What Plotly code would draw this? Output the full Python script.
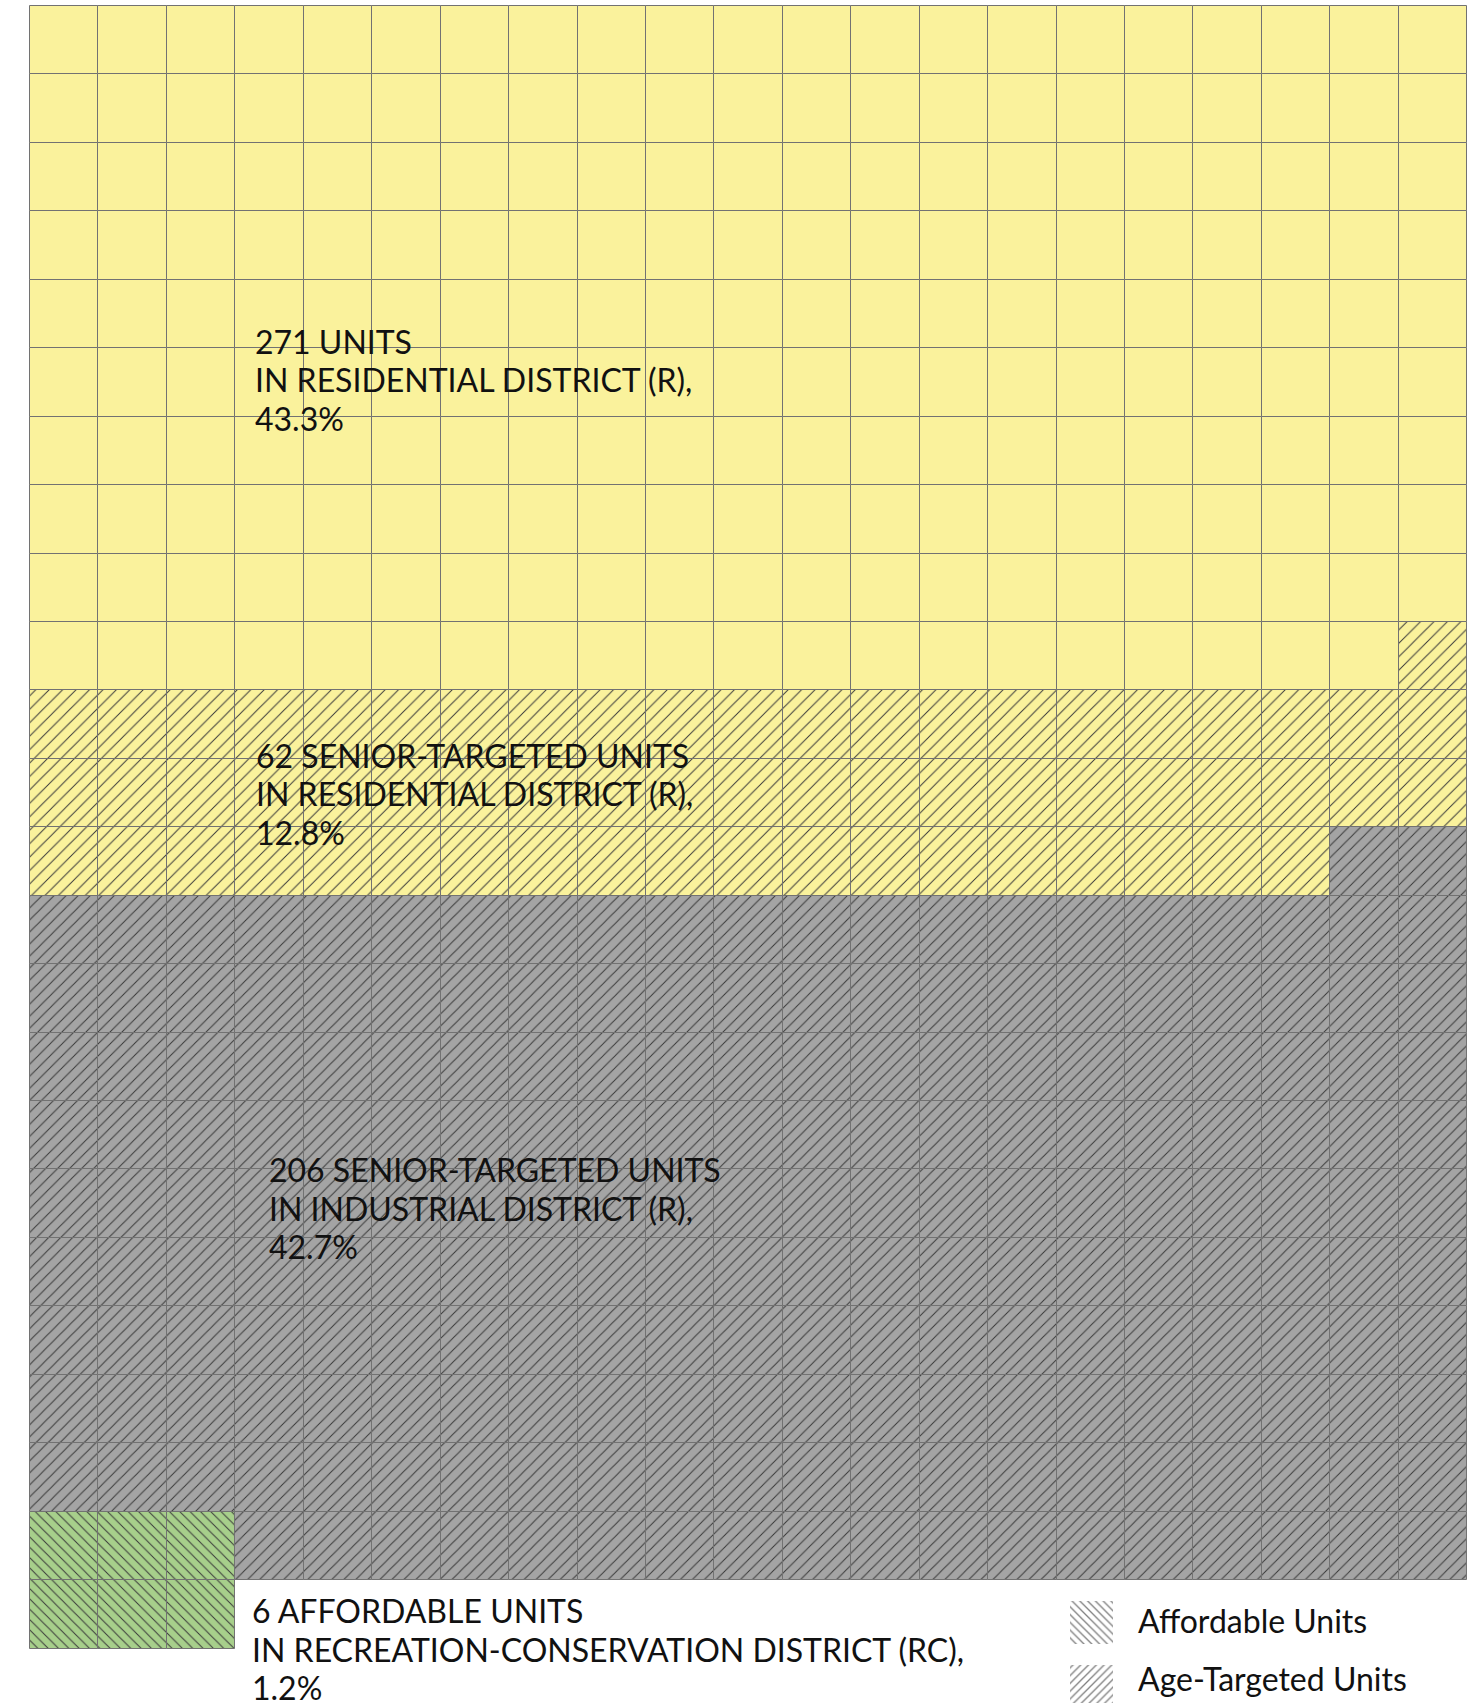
import plotly.graph_objects as go

# ---- data -------------------------------------------------------------
residential_total = 271      # all units in the Residential District (R)
senior_residential = 62      # senior-targeted units in R
senior_industrial = 206      # senior-targeted units in the Industrial District
affordable_rc = 6            # affordable units in Recreation-Conservation

label_lines = [
    ["271 UNITS", "IN RESIDENTIAL DISTRICT (R),", "43.3%"],
    ["62 SENIOR-TARGETED UNITS", "IN RESIDENTIAL DISTRICT (R),", "12.8%"],
    ["206 SENIOR-TARGETED UNITS", "IN INDUSTRIAL DISTRICT (R),", "42.7%"],
    ["6 AFFORDABLE UNITS", "IN RECREATION-CONSERVATION DISTRICT (RC),", "1.2%"],
]
legend_texts = ["Affordable Units", "Age-Targeted Units"]

# ---- styling ------------------------------------------------------------
W, H = 1483, 1703
N_COLS = 21
CELL = 68.44               # pixel size of one waffle cell
GRID_LEFT, GRID_TOP = 30, 6
YELLOW, GRAY, GREEN = "#FAF29C", "#A4A4A4", "#A7CF8B"
EDGE = "#727272"
HATCH = "#3A3A3A"
FONT = "Lato"
FONT_SIZE = 32
LINE_STEP = 38.6           # pixel distance between label lines

# ---- waffle layout --------------------------------------------------------
plain_residential = residential_total - senior_residential
total = residential_total + senior_industrial + affordable_rc
n_rows = total // N_COLS + (1 if total % N_COLS else 0)

cells = [(i // N_COLS, i % N_COLS) for i in range(N_COLS * n_rows)]
plain_cells = cells[:plain_residential]
senior_res_cells = cells[plain_residential:residential_total]

# affordable block: two rows, anchored bottom-left, top row in last grid row
aff_rows = 2
aff_cols = affordable_rc // aff_rows
aff_cells = [(n_rows - 1 + r, c) for r in range(aff_rows) for c in range(aff_cols)]
aff_set = set(aff_cells)
industrial_cells = [rc for rc in cells[residential_total:] if rc not in aff_set]


def cell_trace(cell_list, color, shape, size):
    pattern = dict(shape=shape, fgcolor=HATCH, bgcolor=color, size=size,
                   solidity=1.0 / size, fillmode="replace")
    return go.Bar(
        x=[c + 0.5 for r, c in cell_list],
        y=[1] * len(cell_list),
        base=[r for r, c in cell_list],
        width=[1] * len(cell_list),
        marker=dict(color=color, line=dict(color=EDGE, width=1),
                    pattern=pattern),
        hoverinfo="skip", showlegend=False,
    )


fig = go.Figure()
fig.add_trace(cell_trace(plain_cells, YELLOW, "", 8))
fig.add_trace(cell_trace(senior_res_cells, YELLOW, "/", 9.5))
fig.add_trace(cell_trace(industrial_cells, GRAY, "/", 8.5))
fig.add_trace(cell_trace(aff_cells, GREEN, "\\", 7.3))

# legend swatches, drawn on a pixel-based overlay axis pair
sw_x0, sw_size = 1070, 43
sw_tops = [1601, 1665]
for top, shp in zip(sw_tops, ["\\", "/"]):
    fig.add_trace(go.Bar(
        x=[sw_x0 + sw_size / 2], y=[sw_size], base=[top], width=[sw_size],
        xaxis="x2", yaxis="y2",
        marker=dict(color="white", line=dict(width=0),
                    pattern=dict(shape=shp, fgcolor="#000000", bgcolor="white",
                                 size=5.5, solidity=0.24)),
        hoverinfo="skip", showlegend=False,
    ))

# ---- text -------------------------------------------------------------------
# (left x, vertical centre of first line) in page pixels
label_pos = [(253, 341), (254, 755), (267, 1169.5), (250, 1610.5)]
annotations = []


def add_text(txt, px, py):
    annotations.append(dict(
        text=txt, x=px / W, y=1 - py / H, xref="paper", yref="paper",
        xanchor="left", yanchor="middle", align="left", showarrow=False,
        font=dict(family=FONT, size=FONT_SIZE, color="#111111"),
    ))


for lines, (px, py) in zip(label_lines, label_pos):
    for k, line in enumerate(lines):
        add_text(line, px, py + k * LINE_STEP)
for txt, py in zip(legend_texts, [1620, 1678]):
    add_text(txt, 1136, py)

x_lo = -GRID_LEFT / CELL
x_hi = (W - GRID_LEFT) / CELL
y_top = -GRID_TOP / CELL
y_bot = (H - GRID_TOP) / CELL

fig.update_layout(
    width=W, height=H,
    margin=dict(l=0, r=0, t=0, b=0, pad=0),
    paper_bgcolor="white", plot_bgcolor="white",
    barmode="overlay", bargap=0,
    showlegend=False,
    xaxis=dict(range=[x_lo, x_hi], visible=False, fixedrange=True),
    yaxis=dict(range=[y_bot, y_top], visible=False, fixedrange=True),
    xaxis2=dict(range=[0, W], visible=False, overlaying="x", fixedrange=True),
    yaxis2=dict(range=[H, 0], visible=False, overlaying="y", fixedrange=True),
    annotations=annotations,
)

fig.write_html("out.html", config=dict(displayModeBar=False))
